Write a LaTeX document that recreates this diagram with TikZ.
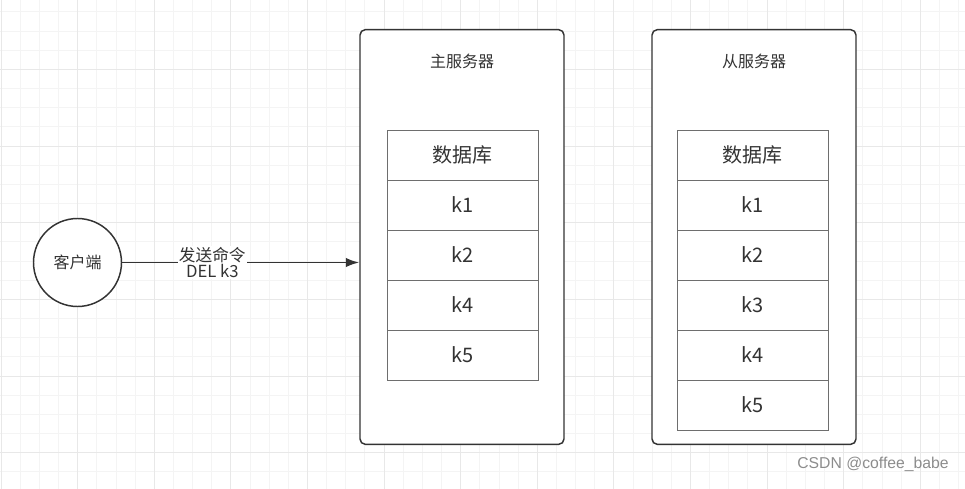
\documentclass[tikz,border=0pt]{standalone}
\usepackage{fontspec}
\setmainfont{Noto Sans CJK SC}
\newfontfamily\wmfont{Liberation Sans}
\usetikzlibrary{arrows.meta, positioning}

\definecolor{gridminor}{HTML}{F4F4F4}
\definecolor{gridmajor}{HTML}{E8E8E8}
\definecolor{ink}{HTML}{333333}
\definecolor{cellline}{HTML}{6E6E6E}

\begin{document}
\begin{tikzpicture}
      [
        x=0.75pt, y=-0.75pt,
        server/.style={draw=ink, line width=1.1pt, rounded corners=4pt,
          minimum width=153pt, minimum height=311pt, inner sep=0pt},
        title/.style={font=\fontsize{12}{14}\selectfont, text=ink},
        cell/.style={draw=cellline, line width=0.7pt, fill=white,
          minimum width=113.25pt, minimum height=37.5pt, inner sep=0pt,
          outer sep=0pt, font=\fontsize{15}{18}\selectfont, text=ink},
        client/.style={circle, draw=ink, line width=1.1pt, minimum size=66pt,
          inner sep=0pt, font=\fontsize{12}{14}\selectfont, text=ink},
        >={Latex[length=10pt,width=7pt]}
      ]
      \useasboundingbox (0,0) rectangle (965,489);
      % background grid
      \foreach \x in {1,20.15,...,965} {
          \draw[gridminor, line width=0.6pt] (\x,0) -- (\x,489);
      }
      \foreach \y in {11.8,30.97,...,489} {
          \draw[gridminor, line width=0.6pt] (0,\y) -- (965,\y);
      }
      \foreach \x in {1,77.6,...,965} {
          \draw[gridmajor, line width=0.7pt] (\x,0) -- (\x,489);
      }
      \foreach \y in {-7.4,69.3,...,489} {
          \draw[gridmajor, line width=0.7pt] (0,\y) -- (965,\y);
      }
      % servers
      \node [server, fill=white] (master) at (462,237) {};
      \node [server, fill=white] (slave) at (754,237) {};
      \node [title] (mtitle) at (462,61) {主服务器};
      \node [title] (stitle) at (754,61) {从服务器};
      % master database
      \foreach \t [count=\i] in {数据库,k1,k2,k4,k5} {
          \node [cell] (m\i) at (462.5,{155+50*(\i-1)}) {\t};
      }
      % slave database
      \foreach \t [count=\i] in {数据库,k1,k2,k3,k4,k5} {
          \node [cell] (s\i) at (752.5,{155+50*(\i-1)}) {\t};
      }
      % client
      \node [client, fill=white] (cli) at (77.5,262.5) {客户端};
      \draw [ink, line width=1.35pt, ->] (cli) -- (master.west |- cli)
        node [pos=0.38, fill=white, inner sep=1pt, align=center,
          font=\fontsize{12.5}{12}\selectfont, text=ink] (cmd) {发送命令\\DEL k3};
      % watermark
      \node [font=\wmfont\fontsize{11.8}{14}\selectfont, text=black!45]
        (mark) at (873,464) {CSDN @coffee\_babe};
\end{tikzpicture}
\end{document}
